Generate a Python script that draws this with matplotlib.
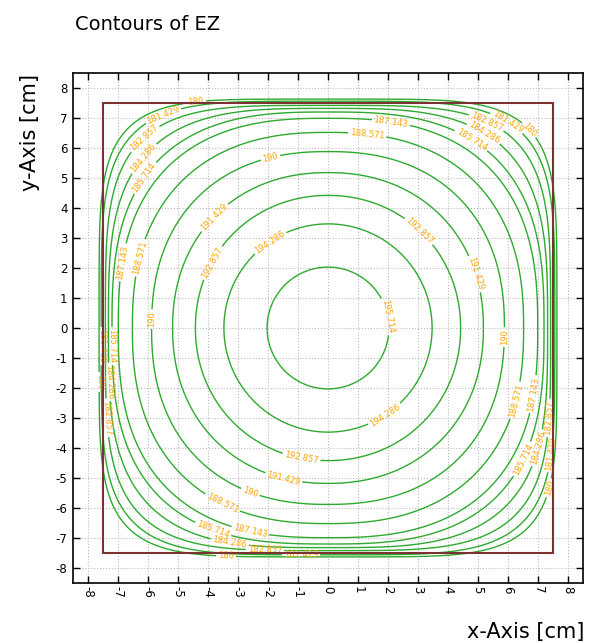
import numpy as np
import matplotlib
matplotlib.use("Agg")
import matplotlib.pyplot as plt
from matplotlib.patches import Rectangle

# contour levels of EZ and where each one crosses the x/y axes (cm)
levels = [180, 181.429, 182.857, 184.286, 185.714, 187.143,
          188.571, 190, 191.429, 192.857, 194.286, 195.714]
axis_cross = [7.63, 7.56, 7.42, 7.32, 7.2, 6.99,
              6.52, 5.88, 5.18, 4.42, 3.47, 2.03]
# squareness of each contour (2 = circle, larger = more square)
squareness = [5.1, 4.5, 4.0, 3.3, 2.8, 2.6,
              2.4, 2.3, 2.15, 2.05, 2.0, 2.0]

# rough spots where the labels sit
label_spots = {
    180: [(-4.4, 7.6), (6.7, 6.6), (-7.63, -1.8), (-3.4, -7.65), (7.66, -5.4)],
    181.429: [(-5.5, 7.1), (6.0, 6.9), (-7.56, -0.6), (-0.9, -7.55), (7.56, -4.2)],
    182.857: [(-6.1, 6.3), (5.3, 6.9), (-7.45, -3.0), (-2.1, -7.45), (7.42, -3.0)],
    184.286: [(-6.2, 5.7), (5.2, 6.5), (-7.32, -1.8), (-3.3, -7.3), (7.0, -4.0)],
    185.714: [(-6.1, 5.0), (4.8, 6.3), (-7.2, -0.6), (-3.9, -6.9), (6.55, -4.4)],
    187.143: [(2.1, 6.9), (-6.9, 2.2), (6.8, -2.2), (-2.6, -6.8)],
    188.571: [(1.3, 6.4), (-6.1, 2.3), (6.2, -2.4), (-3.5, -5.8)],
    190: [(-1.9, 5.6), (-5.9, 0.3), (5.9, -0.3), (-2.6, -5.5)],
    191.429: [(4.9, 1.8), (-3.8, 3.7), (-1.5, -5.1)],
    192.857: [(3.1, 3.3), (-3.9, 2.2), (-0.9, -4.4)],
    194.286: [(-1.9, 2.8), (1.9, -2.9)],
    195.714: [(1.8, 0.35)],
}

box_half = 7.5
ticks = list(range(-8, 9))

fig = plt.figure(figsize=(5.9, 6.43), dpi=100)
ax = fig.add_axes([73 / 590, 60 / 643, 510 / 590, 510 / 643])

g = np.linspace(-8.5, 8.5, 700)
X, Y = np.meshgrid(g, g)
for lev, r, p in zip(levels, axis_cross, squareness):
    D = (np.abs(X) ** p + np.abs(Y) ** p) ** (1.0 / p)
    cs = ax.contour(X, Y, D, levels=[r], colors='#2eaa2e', linewidths=1.0)
    ax.clabel(cs, fmt={r: '%g' % lev}, fontsize=6, colors='#ffa500',
              inline=True, inline_spacing=2, manual=label_spots[lev])

ax.add_patch(Rectangle((-box_half, -box_half), 2 * box_half, 2 * box_half,
                       fill=False, edgecolor='#7b3232', linewidth=1.5, zorder=5))

ax.set_xlim(-8.5, 8.5)
ax.set_ylim(-8.5, 8.5)
ax.set_xticks(ticks)
ax.set_yticks(ticks)
ax.set_xticklabels([str(t) for t in ticks], rotation=-90)
ax.set_yticklabels([str(t) for t in ticks])
ax.tick_params(direction='in', top=True, right=True, length=5, width=1,
               labelsize=8.5)
ax.tick_params(axis='x', pad=2)
ax.tick_params(axis='y', pad=4)
ax.grid(True, linestyle=':', color='#bbbbbb', linewidth=0.8)
ax.set_axisbelow(True)
for s in ax.spines.values():
    s.set_linewidth(1.2)

fig.text(75 / 590, 1 - 25 / 643, 'Contours of EZ', fontsize=14,
         ha='left', va='center')
fig.text(30 / 590, 1 - 74 / 643, 'y-Axis [cm]', fontsize=15,
         rotation=90, ha='center', va='top')
fig.text(584 / 590, 1 - 632 / 643, 'x-Axis [cm]', fontsize=15,
         ha='right', va='center')

fig.savefig('out.png', dpi=100)
